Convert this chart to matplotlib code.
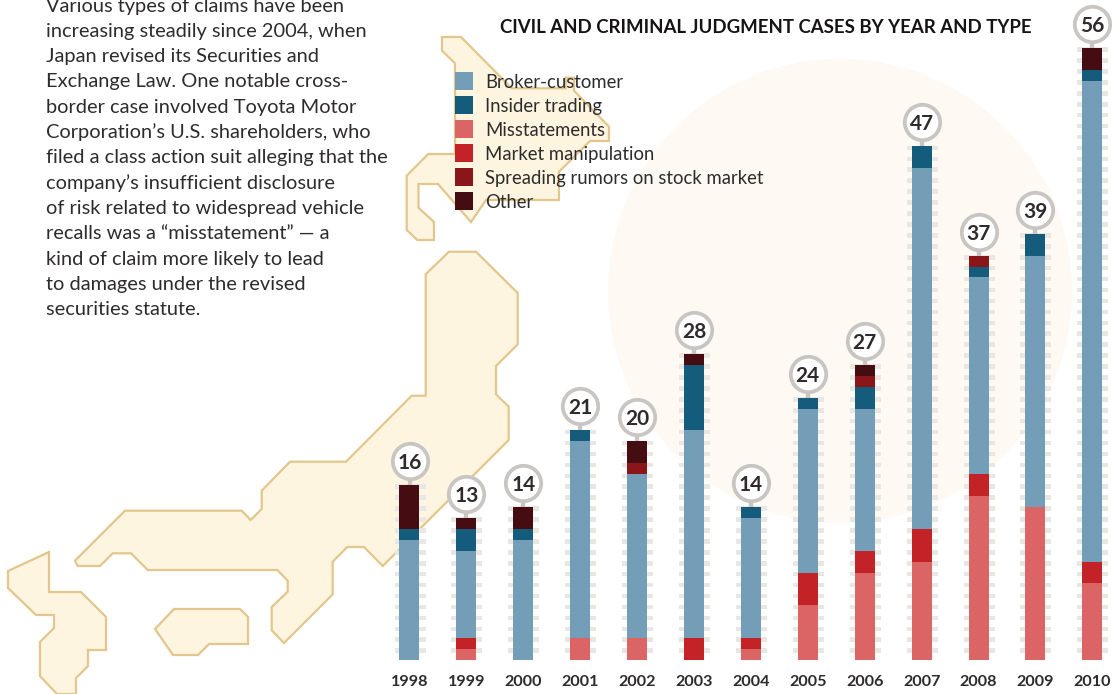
"""Civil and criminal judgment cases by year and type, over a map of Japan."""
import matplotlib
matplotlib.use("Agg")
import matplotlib.pyplot as plt
from matplotlib.patches import Circle, Polygon, Rectangle
from matplotlib.transforms import ScaledTranslation
import numpy as np

plt.rcParams["font.family"] = ["Lato", "DejaVu Sans"]

years = [1998, 1999, 2000, 2001, 2002, 2003, 2004, 2005, 2006, 2007, 2008, 2009, 2010]
misstatements = [0, 1, 0, 2, 2, 0, 1, 5, 8, 9, 15, 14, 7]
manipulation = [0, 1, 0, 0, 0, 2, 1, 3, 2, 3, 2, 0, 2]
broker = [11, 8, 11, 18, 15, 19, 11, 15, 13, 33, 18, 23, 44]
insider = [1, 2, 1, 1, 0, 6, 1, 1, 2, 2, 1, 2, 1]
rumors = [0, 0, 0, 0, 1, 0, 0, 0, 1, 0, 1, 0, 0]
other = [4, 1, 2, 0, 2, 1, 0, 0, 1, 0, 0, 0, 2]

legend_labels = ["Broker-customer", "Insider trading", "Misstatements",
                 "Market manipulation", "Spreading rumors on stock market", "Other"]

title = "CIVIL AND CRIMINAL JUDGMENT CASES BY YEAR AND TYPE"
body_lines = [
    "Various types of claims have been",
    "increasing steadily since 2004, when",
    "Japan revised its Securities and",
    "Exchange Law. One notable cross-",
    "border case involved Toyota Motor",
    "Corporation\u2019s U.S. shareholders, who",
    "filed a class action suit alleging that the",
    "company\u2019s insufficient disclosure",
    "of risk related to widespread vehicle",
    "recalls was a \u201cmisstatement\u201d \u2014 a",
    "kind of claim more likely to lead",
    "to damages under the revised",
    "securities statute.",
]

C_BROKER = "#749DB7"
C_INSIDER = "#155C7C"
C_MISS = "#DB6464"
C_MANIP = "#C32326"
C_RUMOR = "#8A161A"
C_OTHER = "#450D11"
C_DASH = "#E9E7E3"
C_RING = "#C8C5C2"
C_TEXT = "#2E2B2C"
C_LAND = "#FEF5E0"
C_COAST = "#E2C68C"

# backdrop map outlines, traced in pixels
kyushu = [(8, 571), (49, 552), (49, 592), (81, 592), (106, 617), (106, 650), (88, 650),
          (88, 666), (76, 678), (76, 694), (57, 694), (40, 676), (40, 642), (54, 628),
          (54, 615), (36, 615), (8, 588)]
shikoku = [(155, 629), (174, 609), (240, 609), (248, 617), (248, 644), (209, 644),
           (198, 655), (173, 655)]
honshu = [(449, 251.7), (476, 251.7), (517.7, 293), (517.7, 344.3), (496, 366), (496, 394.3),
          (508.7, 406.7), (508.7, 440), (382.7, 566), (364, 547), (347.3, 547), (332.7, 561.7),
          (332.7, 594.3), (284, 643), (271.7, 630.3), (271.7, 607), (287.7, 591.7),
          (287.7, 580.7), (277.3, 570), (147.7, 570), (131, 553.3), (112.7, 553.3), (100, 566),
          (77.7, 566), (75, 560.7), (125, 510.7), (241.7, 510.7), (250.7, 520), (261.7, 509),
          (261.7, 490.7), (290, 461.7), (346, 461.7), (411.7, 395.7), (425.7, 395.7),
          (425.7, 274.3)]
hokkaido = [(442, 37), (461, 37), (511.7, 88.3), (565.7, 88.3), (565.7, 77.7), (574, 77.7),
            (574, 90.7), (609, 126.7), (609, 141), (590, 141), (559, 171.7), (559, 200),
            (486, 200), (471, 222), (438, 184), (418.5, 184), (418.5, 207.7), (434, 222),
            (434, 240), (417.3, 240), (406.7, 230), (406.7, 175.7), (428.3, 154), (455, 154),
            (455, 63.3), (442, 50.7)]

fig = plt.figure(figsize=(11.18, 6.94), dpi=100)

# full-figure pixel layer for the backdrop and text
bg = fig.add_axes([0, 0, 1, 1])
bg.set_xlim(0, 1118)
bg.set_ylim(694, 0)
bg.axis("off")
bg.add_patch(Circle((840, 291), 232, facecolor="#FEF9F2", edgecolor="none"))
for shape in [kyushu, shikoku, honshu, hokkaido]:
    bg.add_patch(Polygon(shape, closed=True, facecolor=C_LAND, edgecolor=C_COAST, linewidth=1.6))

for i, line in enumerate(body_lines):
    bg.text(46, 6 + i * 25.3, line, fontsize=14.4, color=C_TEXT, va="center", ha="left")

bg.text(500, 27, title, fontsize=13.4, fontweight="bold", color="#151314", va="center", ha="left")

swatches = [C_BROKER, C_INSIDER, C_MISS, C_MANIP, C_RUMOR, C_OTHER]
for i, (label, col) in enumerate(zip(legend_labels, swatches)):
    bg.add_patch(Rectangle((455, 72 + i * 24), 18, 18, facecolor=col, edgecolor="none"))
    bg.text(485, 82.5 + i * 24, label, fontsize=13.35, color=C_TEXT, va="center", ha="left")

# chart layer: one value = 10.93 px, years 56.9 px apart
ax = fig.add_axes([380 / 1118, 34 / 694, 738 / 1118, 660 / 694])
ax.patch.set_alpha(0)
ax.set_xlim(1998 + (380 - 409.5) / 56.9, 1998 + (1118 - 409.5) / 56.9)
ax.set_ylim(0, 660 / 10.93)
for spine in ax.spines.values():
    spine.set_visible(False)
ax.set_yticks([])
ax.set_xticks(years)
ax.set_xticklabels([str(y) for y in years], fontsize=11.6, fontweight="bold", color=C_TEXT)
ax.tick_params(axis="x", length=0, pad=10.5)

yrs = np.array(years)
series = [(misstatements, C_MISS), (manipulation, C_MANIP), (broker, C_BROKER),
          (insider, C_INSIDER), (rumors, C_RUMOR), (other, C_OTHER)]
totals = np.sum([s for s, _ in series], axis=0)

# tick-like dashes behind every bar, one per case
for y, total in zip(yrs, totals):
    ax.bar([y + 0.01] * total, [0.42] * total, bottom=np.arange(total) + 0.64,
           width=31 / 56.9, color=C_DASH, linewidth=0, zorder=1)

bottom = np.zeros(len(years))
for values, col in series:
    ax.bar(yrs, values, bottom=bottom, width=20 / 56.9, color=col, linewidth=0, zorder=2)
    bottom += values

# total bubbles sit 24 px above the bar top
lift = ax.transData + ScaledTranslation(0, 0.24, fig.dpi_scale_trans)
stem = ax.transData + ScaledTranslation(0, 0.03, fig.dpi_scale_trans)
for y, total in zip(yrs, totals):
    ax.plot([y, y], [total, total], color=C_RING, lw=3, marker="|", ms=5, mew=3, transform=stem, zorder=3)
    ax.plot([y], [total], marker="o", ms=25.5, mfc="white", mec=C_RING, mew=2.7,
            transform=lift, clip_on=False, zorder=4)
    ax.text(y, total, str(total), fontsize=15, fontweight="bold", color=C_TEXT,
            ha="center", va="center_baseline", transform=lift, zorder=5)

fig.savefig("out.png", dpi=100)
